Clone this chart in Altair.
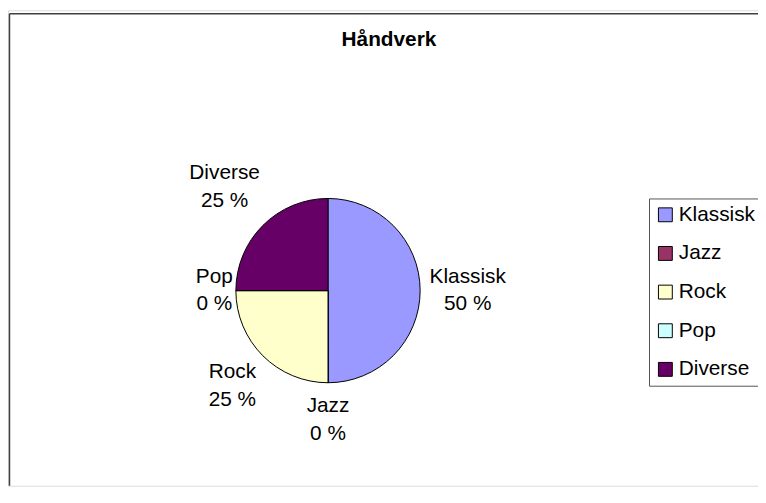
import altair as alt
import pandas as pd
import math

# ---- data ----
categories = ["Klassisk", "Jazz", "Rock", "Pop", "Diverse"]
values = [2, 0, 1, 0, 1]
colors = ["#9999FF", "#993366", "#FFFFCC", "#CCFFFF", "#660066"]
chart_title = "Håndverk"

FONT = "Liberation Sans"

total = sum(values)
pct_labels = [f"{round(100 * v / total)} %" for v in values]
mids = []
cum = 0
for v in values:
    mids.append((cum + v / 2) / total)
    cum += v

df = pd.DataFrame({
    "cat": categories,
    "value": values,
    "idx": list(range(len(categories))),
    "label": [f"{c}\n{p}" for c, p in zip(categories, pct_labels)],
    "mid": mids,
})

W, H = 757, 480
CX, CY = 323, 283
R = 93

pie = alt.Chart(df).mark_arc(outerRadius=R, stroke="black", strokeWidth=1).encode(
    theta=alt.Theta("value:Q", stack=True),
    order=alt.Order("idx:Q"),
    x=alt.value(CX),
    y=alt.value(CY),
    color=alt.Color(
        "cat:N",
        scale=alt.Scale(domain=categories, range=colors),
        legend=alt.Legend(
            title=None,
            orient="none",
            legendX=647,
            legendY=190,
            symbolType="square",
            symbolSize=196,
            symbolStrokeColor="black",
            symbolStrokeWidth=1,
            symbolOpacity=1,
            labelFont=FONT,
            labelFontSize=21,
            labelColor="black",
            labelOffset=3,
            rowPadding=17,
            padding=6,
            strokeColor="#555555",
            fillColor="white",
        ),
    ),
)

# label distance grows with the label's extent in the direction of the slice
labels = alt.Chart(df).transform_calculate(
    lr=f"{R + 6} + 5.25 * length(datum.cat) * abs(sin(2 * PI * datum.mid)) + 32 * abs(cos(2 * PI * datum.mid))"
).mark_text(
    font=FONT, fontSize=21, color="black", align="center", baseline="middle",
    lineBreak="\n", lineHeight=28, dy=-14,
).encode(
    theta=alt.Theta("mid:Q", stack=None, scale=alt.Scale(domain=[0, 1], range=[0, 2 * math.pi])),
    radius=alt.Radius("lr:Q", scale=None, stack=None),
    x=alt.value(CX),
    y=alt.value(CY),
    text="label:N",
)

frame_df = pd.DataFrame({"k": [0]})
top_line = alt.Chart(frame_df).mark_rule(color="#404040", strokeWidth=1.5).encode(
    x=alt.value(1.5), x2=alt.value(W), y=alt.value(3.5)
)
left_line = alt.Chart(frame_df).mark_rule(color="#404040", strokeWidth=1.5).encode(
    x=alt.value(1.5), y=alt.value(3.5), y2=alt.value(H)
)

chart = alt.layer(top_line, left_line, pie, labels).resolve_scale(
    theta="independent"
).properties(
    width=W,
    height=H,
    autosize=alt.AutoSizeParams(type="none"),
    padding=0,
    title=alt.Title(
        chart_title, font=FONT, fontSize=21, fontWeight="bold", color="black",
        anchor="middle", dy=44, dx=6,
    ),
).configure_view(stroke=None).configure(background="white")

chart.save("out.html", embed_options={"renderer": "svg", "actions": False})
